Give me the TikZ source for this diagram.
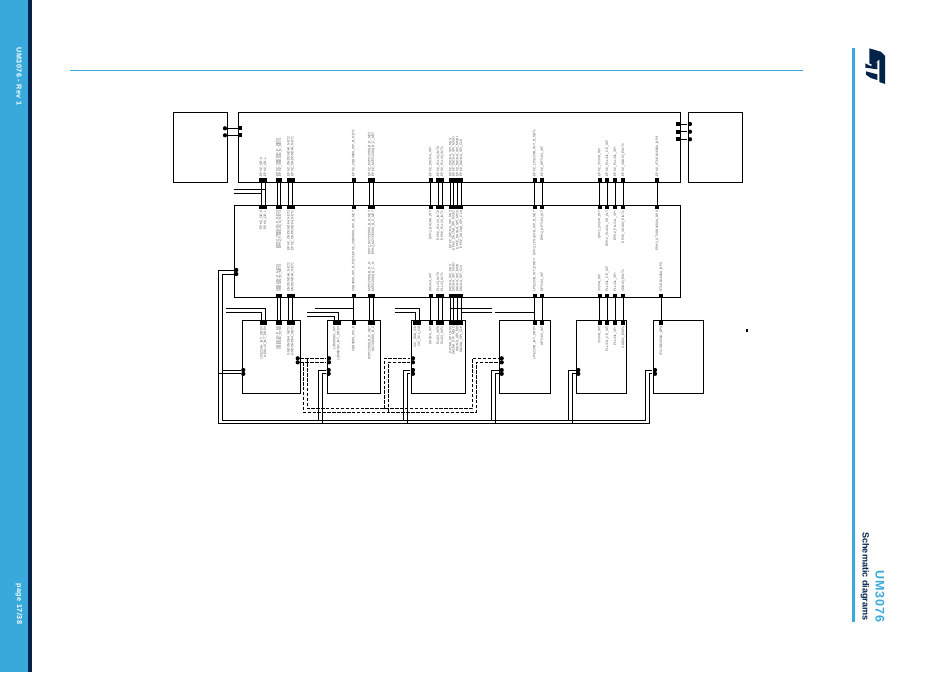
\documentclass[tikz,border=0pt]{standalone}
\usepackage{fontspec}
\setmainfont{Liberation Sans}
\newfontfamily\spacedfont[LetterSpace=7]{Liberation Sans}
\newfontfamily\widefont[LetterSpace=8]{Liberation Sans}
\usetikzlibrary{fit,positioning}
\definecolor{stblue}{HTML}{39A9DC}
\definecolor{stnavy}{HTML}{03234B}

\begin{document}
\begin{tikzpicture}[
	x=0.75pt,
	y=-0.75pt,
	line width=0.72pt,
	sheet/.style={
		draw,
		inner sep=0pt
	},
	pad/.style={
		fill=black,
		inner sep=0pt,
		minimum size=3pt
	},
	dot/.style={
		circle,
		fill=black,
		inner sep=0pt,
		minimum size=3.2pt
	},
	dashwire/.style={
		dash pattern=on 2.6pt off 1.1pt
	},
	uplab/.style={
		rotate=90,
		anchor=west,
		inner sep=0.6pt,
		text=black!65,
		font=\fontsize{2.5pt}{3pt}\selectfont
	},
	downlab/.style={
		rotate=90,
		anchor=east,
		inner sep=0.6pt,
		text=black!65,
		font=\fontsize{2.5pt}{3pt}\selectfont
	}]

	\useasboundingbox (0,0) rectangle (950,672);

	% page frame
	\fill[stblue] (0,0) rectangle (28,672);
	\fill[stnavy] (28,0) rectangle (32,672);
	\fill[stblue] (852,48) rectangle (854.5,622);
	\draw[stblue, line width=0.8pt] (70,70.5) -- (803,70.5);
	\node[rotate=-90, anchor=west, inner sep=0pt, text=white, font=\fontsize{5.4pt}{6pt}\bfseries\spacedfont] (rev) at (19,47) {UM3076 - Rev 1};
	\node[rotate=-90, anchor=east, inner sep=0pt, text=white, font=\fontsize{5.4pt}{6pt}\bfseries\widefont] (page) at (19,625) {page 17/38};
	\node[rotate=-90, anchor=east, inner sep=0pt, text=stblue, font=\fontsize{9.4pt}{12pt}\bfseries\widefont] (docname) at (880,623) {UM3076};
	\node[rotate=-90, anchor=east, inner sep=0pt, text=stnavy, font=\fontsize{6.8pt}{8pt}\bfseries] (section) at (865,621) {Schematic diagrams};

	% logo
	\begin{scope}[shift={(840,30)}, x=0.25pt, y=-0.25pt]
		\fill[stnavy] (88,55) -- (122,65) -- (135,78) -- (135,162) -- (118,156) -- (118,88) -- (100,106) -- (88,100) -- cycle;
		\fill[stnavy] (76,100) -- (92,108) -- (112,96) -- (112,118) -- (76,113) -- cycle;
		\fill[stnavy] (78,124) -- (112,133) -- (112,150) -- (92,144) -- (78,134) -- cycle;
	\end{scope}

	% sheets
	\node[sheet, fit={(173,112.5) (227.5,182)}] (sheetL) {};
	\node[sheet, fit={(238.5,112.5) (680.5,182)}] (sheetT) {};
	\node[sheet, fit={(688,112.5) (742.5,182)}] (sheetR) {};
	\node[sheet, fit={(234,205.5) (680.5,297.5)}] (sheetM) {};
	\foreach \n/\xa/\xb in {1/242.3/300.3, 2/327.3/380.3, 3/411.3/465.3, 4/499.3/550.3, 5/576.3/626.3, 6/653.3/703.3}
		\node[sheet, fit={(\xa,320.5) (\xb,393.5)}] (sheet\n) {};

	% links between the top sheets
	\foreach \n/\y in {1/128.3, 2/135.3} {
		\node[dot] (la\n) at (225,\y) {};
		\node[pad] (lb\n) at (240,\y) {};
		\draw (la\n) -- (lb\n);
	}
	\foreach \n/\y in {1/124, 2/131.7, 3/139.3} {
		\node[pad] (ra\n) at (678,\y) {};
		\node[dot] (rb\n) at (690,\y) {};
		\draw (ra\n) -- (rb\n);
	}

	% pins on top and middle sheets only
	\foreach \id/\px/\labA/\labB in {
		a/261.3/EPH2\_OD-0/EPH2\_OD-0,
		b/265.3/EPH2\_OD-1/EPH2\_OD-1} {
		\node[pad] (t\id) at (\px,180) {};
		\node[pad] (m\id) at (\px,207) {};
		\draw (t\id) -- (m\id);
		\node[uplab] at (t\id.north) {\labA};
		\node[downlab] at (m\id.south) {\labB};
	}

	% pins running through to the lower sheets
	\foreach \id/\px/\pxb/\labA/\labB/\labC/\labD in {
		c/277.5/277.7/EPH2\_VREGIN\_P\_NET3/EPH2\_VREGIN\_P\_NET3/VREGIN\_P\_NET3/VREGIN\_P\_N3,
		d/280.3/280.3/EPH2\_VREGIN\_N\_NET3/EPH2\_VREGIN\_N\_NET3/VREGIN\_N\_NET3/VREGIN\_N\_N3,
		e/288.7/288.7/EPH2\_GNDGND64\_NET2/EPH2\_GNDGND64\_NET2/GNDGND64\_NET2/GNDGND64\_NET2,
		f/292.5/292.5/EPH2\_GNDGND64\_NET1/EPH2\_GNDGND64\_NET1/GNDGND64\_NET1/GNDGND64\_NET1,
		g/353.5/353.5/EPH2\_USB4000\_INT\_B\_NET1/EPH2\_USB4000\_INT\_B\_NET/USB4000\_INT\_B\_NET1/USB4000\_INT\_B,
		h/369.5/369.5/EPH2\_M2TO2080\_B\_D\_NET/EPH2\_M2TO2080\_B\_D\_NET/M2TO2080\_B\_D\_N/M2TO2080\_B\_D\_NET,
		i/373.3/373.3/EPH2\_M2TO2080\_B\_C\_NET/EPH2\_M2TO2080\_B\_C\_NET/M2TO2080\_B\_C\_N/M2TO2080\_B\_C,
		j/430.5/430.5/EPH2\_DA1NA\_INT/EPH2\_DA1NA\_INT/DA1NA\_INT/DA1NA\_INT,
		k/438.3/438.3/EPH2\_PLL33\_INT0/EPH2\_PLL33\_INT0/PLL33\_INT0/PLL33\_INT0,
		l/442.3/442.3/EPH2\_PLL33\_INT1/EPH2\_PLL33\_INT1/PLL33\_INT1/PLL33\_INT1,
		m/450.5/450.5/EPH2\_DA1NA\_SPI\_NSS/EPH2\_DA1NA\_SPI\_NSS/DA1NA\_SPI\_NSS/DA1NA\_SPI\_NSS,
		n/453.7/453.7/EPH2\_DA1NA\_SPI\_MISO/EPH2\_DA1NA\_SPI\_MISO/DA1NA\_SPI\_MISO/DA1NA\_SPI\_MISO,
		o/457.5/457.5/EPH2\_DA1NA\_SPI\_MOSI/EPH2\_DA1NA\_SPI\_MOS/DA1NA\_SPI\_MOS/DA1NA\_SPI\_MO,
		p/461.3/461.3/EPH2\_DA1NA\_SPI\_CLK/EPH2\_DA1NA\_SPI\_CLK/DA1NA\_SPI\_CLK/DA1NA\_SPI\_CLK,
		q/534.5/534.5/EPH2\_LPS22HB\_INT\_B\_NET1/EPH2\_LPS22HB\_INT\_B\_NET/LPS22HB\_INT\_DRDY/LPS22HB\_INT\_DRDY,
		r/542.3/542.3/EPH2\_DPT103\_INT/EPH2\_DPT103\_INT/DPT103\_INT/DPT103\_INT,
		s/599.5/599.5/EPH2\_3V3VA\_INT/EPH2\_3V3VA\_INT/3V3VA\_INT/3V3VA\_INT,
		u/607.2/607.2/EPH2\_PLL33L\_CE\_INT/EPH2\_PLL33L\_CE\_INT/PLL33L\_CE\_INT/PLL33L\_CE\_INT,
		v/615.2/615.2/EPH2\_PLL33L\_3P+/EPH2\_PLL33L\_3P+/PLL33L\_3P+/PLL33L\_3P+,
		w/623.2/623.2/EPH2\_VDDIO\_EINT1/EPH2\_VDDIO\_EINT1/VDDIO\_EINT1/VDDIO\_EINT1,
		x/657.3/661.3/EPH2\_STUSB1600A\_BPS/EPH2\_STUSB1600A\_BPS/STUSB1600A\_BPS/STUSB1600A\_BPS} {
		\node[pad] (t\id) at (\px,180) {};
		\node[pad] (m\id) at (\px,207) {};
		\node[pad] (n\id) at (\pxb,295.5) {};
		\node[pad] (b\id) at (\pxb,322.5) {};
		\draw (t\id) -- (m\id);
		\draw (n\id) -- (b\id);
		\node[uplab] at (t\id.north) {\labA};
		\node[downlab] at (m\id.south) {\labB};
		\node[uplab] at (n\id.north) {\labC};
		\node[downlab] at (b\id.south) {\labD};
	}

	% lower sheet pins fed from the left
	\foreach \id/\px/\y/\xs/\lab in {
		pa/261.7/312.3/226/LPS22HH\_INT\_DRDY,
		pb/265.2/308.3/226/HDSL10\_INT\_DRDY,
		pc/334.5/316/307/LSM6DSO\_INT,
		pd/338.5/312.3/307/LSM6DSO\_INT\_DRDY,
		pe/415.3/312.3/395/I3C\_SDA\_OD,
		pf/419.3/308.3/395/I3C\_SCL\_OD} {
		\node[pad] (\id) at (\px,322.5) {};
		\coordinate (\id s) at (\xs,\y);
		\draw (\id s) -| (\id);
		\node[downlab] at (\id.south) {\lab};
	}
	\coordinate (feedA) at (234,189.3);
	\coordinate (feedB) at (234,193.3);
	\draw (feedA) -- (feedA -| tb);
	\draw (feedB) -- (feedB -| ta);

	% taps
	\coordinate (tapA) at (315,308.3);
	\coordinate (tapB) at (449.5,308.3);
	\coordinate (tapC) at (491.7,308.3);
	\coordinate (tapD) at (461,312.3);
	\coordinate (tapE) at (491.7,312.3);
	\coordinate (tapF) at (495,312.3);
	\draw (tapA) -- (tapA -| bg);
	\draw (tapB) -- (tapC);
	\draw (tapD) -- (tapE);
	\draw (tapF) -- (tapF -| bq);

	% bus round the lower sheets
	\node[dot] (busA) at (236.3,270) {};
	\node[dot] (busB) at (236.3,274) {};
	\foreach \n/\px/\xa/\xb in {1/243.3/222.3/218.3, 2/328.7/318.7/322.7, 3/413/403.3/407.3, 4/501.7/491.7/495.7, 5/578.3/568.3/572.3, 6/655/645.7/649.3} {
		\node[dot] (ca\n) at (\px,370) {};
		\node[dot] (cb\n) at (\px,373.8) {};
		\coordinate (ua\n) at (\xa,420.3);
		\coordinate (ub\n) at (\xb,423.3);
	}
	\coordinate (ua0) at (222.3,420.3);
	\coordinate (ub0) at (218.3,423.3);
	\draw (busB) -| (ua0) -- (ua6) |- (ca6);
	\draw (busA) -| (ub0) -- (ub6) |- (cb6);
	\draw (ca1) -- (ca1 -| ua0);
	\draw (cb1) -- (cb1 -| ub0);
	\foreach \n in {2,3,4,5} {
		\draw (ca\n) -| (ua\n);
		\draw (cb\n) -| (ub\n);
	}

	% dashed pair
	\foreach \r/\y/\low/\xa/\xb/\xc in {a/358.3/408.7/307.3/384.3/472.3, b/362.3/412.3/303.3/388.3/476.3} {
		\node[dot] (d\r1) at (297.7,\y) {};
		\node[dot] (d\r2) at (329,\y) {};
		\node[dot] (d\r3) at (413,\y) {};
		\node[dot] (d\r4) at (501.7,\y) {};
		\coordinate (tee\r) at (\xa,\y);
		\coordinate (low\r) at (\xc,\low);
		\coordinate (mid\r) at (\xb,\low);
		\draw[dashwire] (d\r1) -- (d\r2);
		\draw[dashwire] (tee\r) |- (low\r) |- (d\r4);
		\draw[dashwire] (mid\r) |- (d\r3);
	}

	% stray mark
	\node[pad, minimum width=1.6pt, minimum height=2.6pt] (mark) at (747.3,330.5) {};
\end{tikzpicture}
\end{document}
